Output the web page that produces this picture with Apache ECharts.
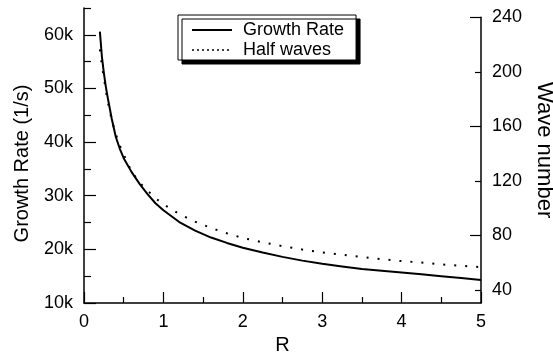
<!DOCTYPE html>
<html>
<head>
<meta charset="utf-8">
<script src="https://cdn.jsdelivr.net/npm/echarts@6/dist/echarts.min.js"></script>
<style>
  html, body { margin: 0; padding: 0; background: #fff; }
  #chart { width: 553px; height: 353px; }
</style>
</head>
<body>
<div id="chart"></div>
<script>
// R values
var rValues = [0.2, 0.225, 0.25, 0.275, 0.3, 0.35, 0.4, 0.45, 0.5, 0.6, 0.7, 0.8, 0.9, 1.0,
	1.2, 1.4, 1.6, 1.8, 2.0, 2.25, 2.5, 2.75, 3.0, 3.25, 3.5, 3.75, 4.0, 4.25, 4.5, 4.75, 5.0];
// growth rate (1/s), left axis
var growthRate = [60600, 56000, 52900, 50300, 48200, 44300, 41000, 38800, 37000, 34400, 32200, 30300, 28600, 27300,
	25100, 23500, 22200, 21200, 20300, 19400, 18600, 17900, 17300, 16800, 16350, 16000, 15700, 15350, 15000, 14650, 14300];
// half waves, right axis (wave number)
var halfWaves = [216.5, 204.5, 195.8, 186.3, 178, 164.3, 154.5, 146, 139.5, 126.8, 118.8, 112.9, 107.4, 102.9,
	95.7, 90.1, 85.5, 81.6, 78.2, 75.0, 72.2, 69.7, 67.6, 66.0, 64.2, 62.6, 61.2, 60.2, 58.8, 57.8, 56.8];

var rateMajorTicks = [10000, 20000, 30000, 40000, 50000, 60000];
var rateMinorTicks = [15000, 25000, 35000, 45000, 55000, 65000];
var waveLabels = [40, 80, 120, 160, 200, 240];
var waveMajorTicks = [80, 160, 240];
var waveMinorTicks = [40, 120, 200];

function pairs(xs, ys) {
	return xs.map(function(x, i) { return [x, ys[i]]; });
}

var font = 'Liberation Sans, Arial, Helvetica, sans-serif';
var tickStyle = { color: '#000', width: 1.2 };

var chart = echarts.init(document.getElementById('chart'), null, { renderer: 'canvas' });
var option = {
	animation: false,
	backgroundColor: '#fff',
	textStyle: { fontFamily: font, color: '#000' },
	grid: [
		{ left: 84, right: 72, top: 8, bottom: 50, outerBoundsMode: 'none' },
		{ left: 84, right: 72, top: 17.3, bottom: 50, outerBoundsMode: 'none' }
	],
	legend: {
		orient: 'vertical',
		left: 178,
		top: 15,
		itemWidth: 40,
		itemHeight: 14,
		itemGap: 2,
		padding: [6, 12, 1, 13],
		borderColor: '#000',
		borderWidth: 1,
		backgroundColor: '#fff',
		shadowColor: '#000',
		shadowBlur: 0,
		shadowOffsetX: 4,
		shadowOffsetY: 4,
		itemStyle: { opacity: 0 },
		textStyle: { fontSize: 18, lineHeight: 16, color: '#000', fontFamily: font, padding: [0, 0, 0, 6] },
		data: [
			{ name: 'Growth Rate' },
			{ name: 'Half waves', lineStyle: { type: [2, 3], width: 1.5 } }
		]
	},
	xAxis: [{
		gridIndex: 0,
		type: 'value',
		min: 0,
		max: 5,
		interval: 1,
		name: 'R',
		nameLocation: 'middle',
		nameGap: 32,
		nameTextStyle: { fontSize: 20, color: '#000' },
		axisLine: { onZero: false, lineStyle: { color: '#000', width: 1.5 } },
		axisTick: { inside: true, length: 11, lineStyle: tickStyle },
		minorTick: { show: true, splitNumber: 2, length: 6, lineStyle: tickStyle },
		axisLabel: { fontSize: 18, color: '#000', margin: 10 },
		splitLine: { show: false }
	}, {
		gridIndex: 1,
		type: 'value',
		min: 0,
		max: 5,
		show: false
	}],
	yAxis: [{
		gridIndex: 0,
		type: 'value',
		position: 'left',
		min: 10000,
		max: 65000,
		name: 'Growth Rate (1/s)',
		nameLocation: 'middle',
		nameGap: 52,
		nameTextStyle: { fontSize: 20, color: '#000', padding: [0, 16, 0, 0] },
		axisLine: { show: true, onZero: false, lineStyle: { color: '#000', width: 1.5 } },
		axisTick: { show: true, inside: true, length: 12, customValues: rateMajorTicks, lineStyle: tickStyle },
		axisLabel: {
			fontSize: 18, color: '#000', margin: 11,
			customValues: rateMajorTicks,
			formatter: function(v) { return (v / 1000) + 'k'; }
		},
		splitLine: { show: false }
	}, {
		// minor ticks of the left axis
		gridIndex: 0,
		type: 'value',
		position: 'left',
		min: 10000,
		max: 65000,
		axisLine: { show: false, onZero: false },
		axisTick: { show: true, inside: true, length: 7, customValues: rateMinorTicks, lineStyle: tickStyle },
		axisLabel: { show: false },
		splitLine: { show: false }
	}, {
		gridIndex: 1,
		type: 'value',
		position: 'right',
		min: 30.5,
		max: 240,
		name: 'Wave number',
		nameLocation: 'middle',
		nameRotate: -90,
		nameGap: 41,
		nameTextStyle: { fontSize: 22, color: '#000', padding: [0, 20, 0, 0] },
		axisLine: { show: true, onZero: false, lineStyle: { color: '#000', width: 1.5 } },
		axisTick: { show: true, inside: true, length: 6, customValues: waveMinorTicks, lineStyle: tickStyle },
		axisLabel: { fontSize: 18, color: '#000', margin: 11, customValues: waveLabels },
		splitLine: { show: false }
	}, {
		gridIndex: 1,
		type: 'value',
		position: 'right',
		min: 30.5,
		max: 240,
		axisLine: { show: false, onZero: false },
		axisTick: { show: true, inside: true, length: 11, customValues: waveMajorTicks, lineStyle: tickStyle },
		axisLabel: { show: false },
		splitLine: { show: false }
	}],
	series: [{
		name: 'Growth Rate',
		type: 'line',
		xAxisIndex: 0,
		yAxisIndex: 0,
		data: pairs(rValues, growthRate),
		symbol: 'none',
		smooth: false,
		lineStyle: { color: '#000', width: 2, join: 'round' },
		itemStyle: { color: '#000' }
	}, {
		name: 'Half waves',
		type: 'line',
		xAxisIndex: 1,
		yAxisIndex: 2,
		data: pairs(rValues, halfWaves),
		symbol: 'none',
		smooth: false,
		lineStyle: { color: '#000', width: 2, type: [2, 9] },
		itemStyle: { color: '#000' }
	}]
};
chart.setOption(option);
</script>
</body>
</html>
